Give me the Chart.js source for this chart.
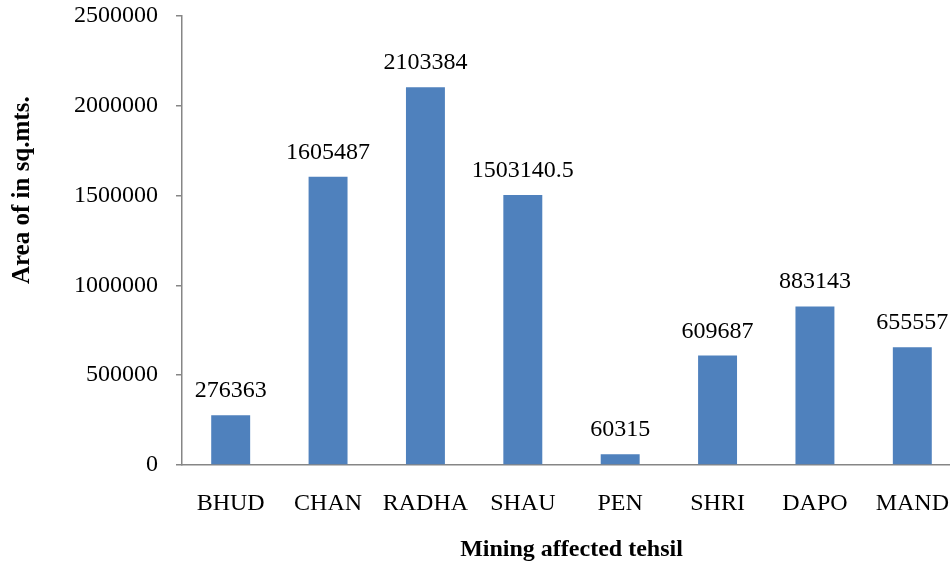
<!DOCTYPE html>
<html>
<head>
<meta charset="utf-8">
<script src="https://cdn.jsdelivr.net/npm/chart.js@4/dist/chart.umd.min.js"></script>
<style>
  html, body { margin: 0; padding: 0; background: #ffffff; overflow: hidden; }
  #wrap { width: 950px; height: 568px; overflow: hidden; }
</style>
</head>
<body>
<div id="wrap"><canvas id="myChart" width="962" height="568"></canvas></div>
<script>
// Chart data
const tehsils = ['BHUD', 'CHAN', 'RADHA', 'SHAU', 'PEN', 'SHRI', 'DAPO', 'MAND'];
const areaValues = [276363, 1605487, 2103384, 1503140.5, 60315, 609687, 883143, 655557];
const yTicks = [0, 500000, 1000000, 1500000, 2000000, 2500000];

const serif = '"Liberation Serif", "Times New Roman", serif';
const axisGray = '#868686';

// Draws the value above each bar
const valueLabels = {
    id: 'valueLabels',
    afterDatasetsDraw(chart) {
        const ctx = chart.ctx;
        const meta = chart.getDatasetMeta(0);
        ctx.save();
        ctx.font = '24px ' + serif;
        ctx.fillStyle = '#000000';
        ctx.textAlign = 'center';
        ctx.textBaseline = 'alphabetic';
        meta.data.forEach((bar, i) => {
            ctx.fillText(String(areaValues[i]), bar.x, bar.y - 18);
        });
        ctx.restore();
    }
};

// Y axis title sits a bit above the middle of the axis, so draw it by hand
const yTitle = {
    id: 'yTitle',
    afterDraw(chart) {
        const ctx = chart.ctx;
        const area = chart.chartArea;
        ctx.save();
        ctx.translate(23, area.top + (area.bottom - area.top) * 0.388);
        ctx.rotate(-Math.PI / 2);
        ctx.font = 'bold 25px ' + serif;
        ctx.fillStyle = '#000000';
        ctx.textAlign = 'center';
        ctx.textBaseline = 'middle';
        ctx.fillText('Area of in sq.mts.', 0, 0);
        ctx.restore();
    }
};

const ctx = document.getElementById('myChart').getContext('2d');
new Chart(ctx, {
    type: 'bar',
    data: {
        labels: tehsils,
        datasets: [{
            label: 'Area',
            data: areaValues,
            backgroundColor: '#4F81BD',
            borderWidth: 0,
            barPercentage: 0.40,
            categoryPercentage: 1.0
        }]
    },
    options: {
        responsive: false,
        animation: false,
        layout: { padding: { top: 16, right: 1, left: 0, bottom: 0 } },
        plugins: {
            legend: { display: false },
            tooltip: { enabled: false }
        },
        scales: {
            x: {
                afterFit(scale) {
                    scale.height = 103;
                    scale.paddingLeft = 0;
                    scale.paddingRight = 0;
                },
                grid: { drawOnChartArea: false, drawTicks: false },
                border: { color: axisGray, width: 1.5 },
                ticks: {
                    color: '#000000',
                    padding: 24,
                    font: { family: serif, size: 24 }
                },
                title: {
                    display: true,
                    text: 'Mining affected tehsil',
                    color: '#000000',
                    font: { family: serif, size: 24, weight: 'bold' },
                    padding: { top: 10, bottom: 4 }
                }
            },
            y: {
                min: 0,
                max: 2500000,
                afterFit(scale) {
                    scale.width = 182;
                    scale.paddingTop = 0;
                    scale.paddingBottom = 0;
                },
                afterBuildTicks(scale) { scale.ticks = yTicks.map(v => ({ value: v })); },
                grid: { drawOnChartArea: false, drawTicks: true, tickLength: 6, color: axisGray, lineWidth: 1.5 },
                border: { color: axisGray, width: 1.5 },
                ticks: {
                    color: '#000000',
                    padding: 18,
                    font: { family: serif, size: 24 },
                    callback: v => String(v)
                }
            }
        }
    },
    plugins: [valueLabels, yTitle]
});
</script>
</body>
</html>
